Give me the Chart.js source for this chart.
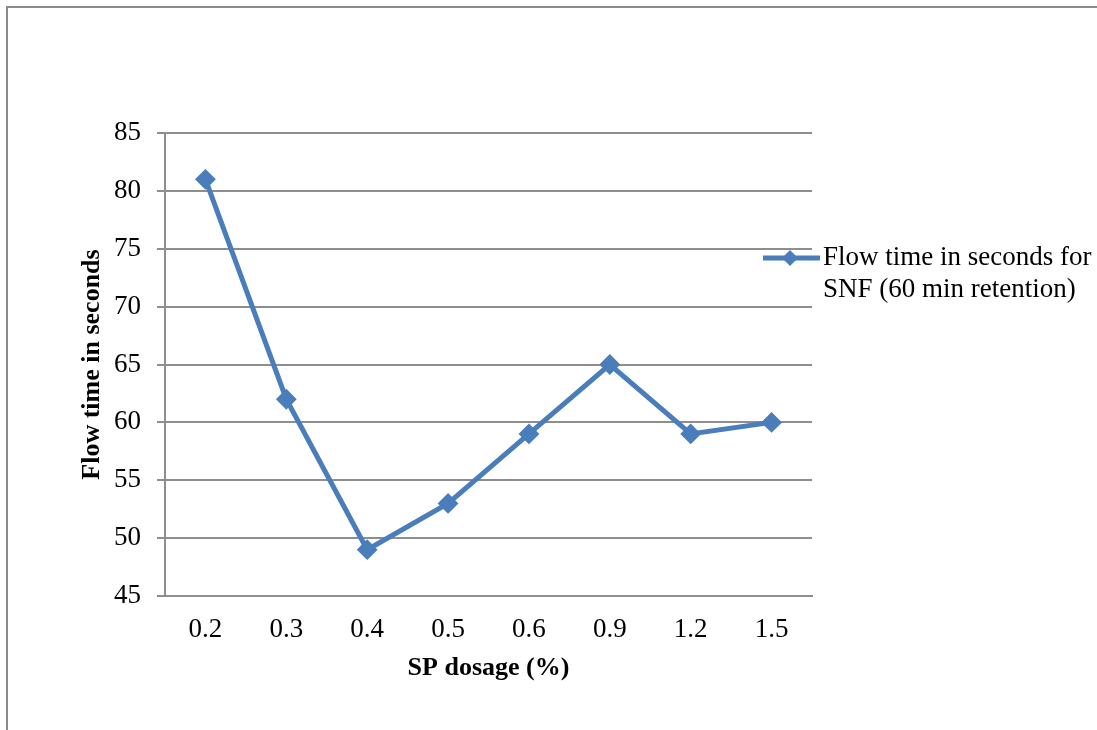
<!DOCTYPE html>
<html>
<head>
<meta charset="utf-8">
<script src="https://cdn.jsdelivr.net/npm/chart.js@4/dist/chart.umd.min.js"></script>
<style>
    html, body { margin: 0; padding: 0; background: #fff; }
    #wrap { position: relative; width: 1097px; height: 730px; overflow: hidden; }
    #marco { position: absolute; left: 6px; top: 6px; width: 1200px; height: 800px;
             border-left: 2px solid #8a8a8a; border-top: 2px solid #8a8a8a; }
    canvas { position: absolute; left: 0; top: 0; }
</style>
</head>
<body>
<div id="wrap">
    <div id="marco"></div>
    <canvas id="grafica" width="1097" height="730"></canvas>
</div>
<script>
// datos
const dosis = ['0.2', '0.3', '0.4', '0.5', '0.6', '0.9', '1.2', '1.5'];
const tiempoFlujo = [81, 62, 49, 53, 59, 65, 59, 60];
const leyenda = ['Flow time in seconds for', 'SNF (60 min retention)'];
const ejeY = { min: 45, max: 85, paso: 5 };

const AZUL = '#4a7ebb';
const GRIS = '#8e8e8e';
const FUENTE = "'Liberation Serif', 'Times New Roman', serif";

// ── LEYENDA A LA DERECHA (dos líneas) ─────────────────────
const leyendaLateral = {
    id: 'leyendaLateral',
    afterDraw(chart) {
        const { ctx, chartArea } = chart;
        const x0 = chartArea.right - 49;
        const y0 = chartArea.top + 125;
        ctx.save();
        ctx.strokeStyle = AZUL;
        ctx.lineWidth = 5;
        ctx.beginPath();
        ctx.moveTo(x0, y0);
        ctx.lineTo(x0 + 57, y0);
        ctx.stroke();
        // rombo
        const cx = x0 + 27, r = 8;
        ctx.fillStyle = AZUL;
        ctx.beginPath();
        ctx.moveTo(cx - r, y0);
        ctx.lineTo(cx, y0 - r);
        ctx.lineTo(cx + r, y0);
        ctx.lineTo(cx, y0 + r);
        ctx.closePath();
        ctx.fill();
        // texto
        ctx.fillStyle = '#000';
        ctx.font = `27px ${FUENTE}`;
        ctx.textBaseline = 'middle';
        ctx.textAlign = 'left';
        leyenda.forEach((linea, i) => ctx.fillText(linea, chartArea.right + 11, y0 + i * 32));
        ctx.restore();
    }
};

new Chart(document.getElementById('grafica'), {
    type: 'line',
    data: {
        labels: dosis,
        datasets: [{
            label: leyenda.join(' '),
            data: tiempoFlujo,
            borderColor: AZUL,
            backgroundColor: AZUL,
            borderWidth: 5,
            pointStyle: 'rectRot',
            pointRadius: 9,
            pointHoverRadius: 9,
            pointBorderWidth: 2,
            tension: 0
        }]
    },
    options: {
        responsive: false,
        animation: false,
        layout: { padding: { left: 0, top: 133, right: 285, bottom: 0 } },
        plugins: { legend: { display: false }, tooltip: { enabled: false } },
        scales: {
            x: {
                offset: true,
                grid: { display: false, drawTicks: false },
                border: { display: true, color: GRIS, width: 2 },
                ticks: { color: '#000', padding: 18, font: { family: FUENTE, size: 27 } },
                title: {
                    display: true,
                    text: 'SP dosage (%)',
                    color: '#000',
                    font: { family: FUENTE, size: 26, weight: 'bold' },
                    padding: { top: 0, bottom: 46 }
                },
                afterFit(scale) { scale.height = 134; }
            },
            y: {
                min: ejeY.min,
                max: ejeY.max,
                grid: { color: GRIS, lineWidth: 2, tickLength: 8 },
                border: { display: true, color: GRIS, width: 2 },
                ticks: {
                    stepSize: ejeY.paso,
                    color: '#000',
                    padding: 16,
                    font: { family: FUENTE, size: 27 }
                },
                title: {
                    display: true,
                    text: 'Flow time in seconds',
                    color: '#000',
                    font: { family: FUENTE, size: 26, weight: 'bold' },
                    padding: { top: 77, bottom: 0 }
                },
                afterFit(scale) { scale.width = 165; }
            }
        }
    },
    plugins: [leyendaLateral]
});
</script>
</body>
</html>
